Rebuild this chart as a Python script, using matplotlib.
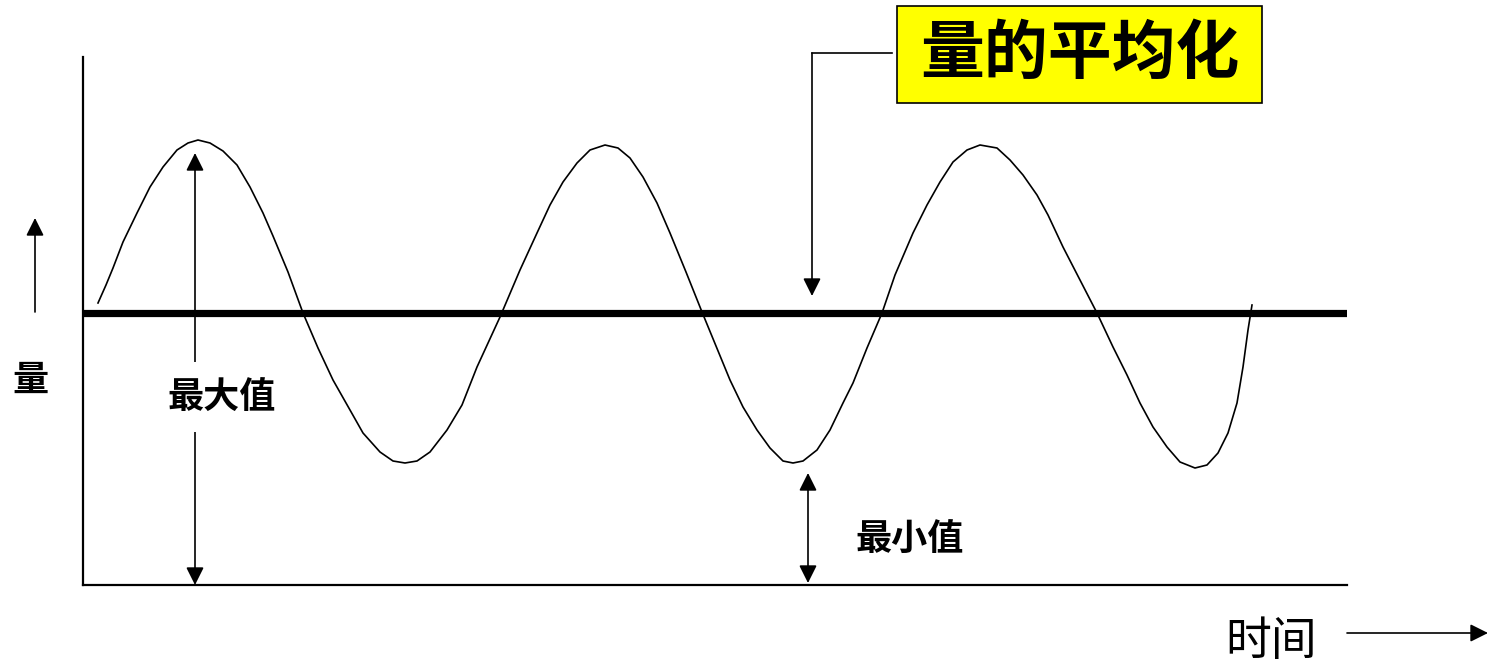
import matplotlib
matplotlib.use("Agg")
import matplotlib.pyplot as plt
from matplotlib.patches import Rectangle

plt.rcParams['font.family'] = ['Noto Sans CJK SC', 'DejaVu Sans']

# ---- data (time units, quantity units; origin at axes corner) ----
time = [15, 23, 30, 40, 54, 67, 80, 94, 105, 115, 127, 140, 154, 167, 180, 190,
        205, 220, 235, 250, 267, 280, 297, 310, 322, 334, 347, 364, 379, 394,
        417, 437, 454, 467, 480, 494, 507, 522, 535, 547, 560, 574, 587, 603,
        619, 633, 647, 660, 674, 687, 700, 710, 720, 734, 747, 760, 770, 784,
        799, 812, 824, 830, 844, 857, 870, 884, 897, 914, 927, 940, 954, 965,
        980, 997, 1014, 1030, 1044, 1057, 1070, 1084, 1097, 1112, 1124, 1135,
        1145, 1154, 1160, 1165, 1169]
quantity = [282, 300, 317, 343, 372, 398, 418, 435, 442, 445, 442, 434, 420, 398, 372, 349,
            313, 272, 237, 205, 175, 152, 133, 124, 122, 124, 133, 155, 180, 218,
            268, 315, 352, 380, 403, 422, 435, 440, 437, 427, 408, 382, 352, 313,
            273, 239, 205, 178, 155, 137, 124, 122, 124, 135, 155, 182, 202, 237,
            272, 310, 338, 352, 380, 403, 423, 435, 440, 437, 425, 410, 390, 370,
            338, 305, 272, 238, 210, 182, 158, 138, 123, 117, 120, 132,
            152, 182, 218, 255, 280]
mean_value = 272
max_marker_time = 112
max_value = 432
min_marker_time = 725
min_value = 112
title_text = "量的平均化"
ylabel_text = "量"
xlabel_text = "时间"
max_label = "最大值"
min_label = "最小值"

fig = plt.figure(figsize=(14.9, 6.66), dpi=100)
ax = fig.add_axes([83 / 1490, 81 / 666, 1264 / 1490, 528 / 666])
ax.set_xlim(0, 1264)
ax.set_ylim(0, 528)
for s in ['top', 'right']:
    ax.spines[s].set_visible(False)
for s in ['left', 'bottom']:
    ax.spines[s].set_linewidth(1.6)
    ax.spines[s].set_color('black')
ax.set_xticks([])
ax.set_yticks([])

# sine-like curve
ax.plot(time, quantity, color='black', lw=1.2, solid_joinstyle='round', zorder=3)
# mean line
ax.axhline(mean_value, color='black', lw=5.2, zorder=2)

head = '-|>,head_length=0.4,head_width=0.2'
dhead = '<|-|>,head_length=0.4,head_width=0.2'
ap = dict(color='black', lw=1.2, shrinkA=0, shrinkB=0, mutation_scale=27)

# max arrow
ax.annotate('', xy=(max_marker_time, max_value), xytext=(max_marker_time, 0),
            arrowprops=dict(arrowstyle=dhead, **ap), annotation_clip=False, zorder=4)
ax.text(max_marker_time + 27, 188, max_label, fontsize=26, fontweight='bold',
        ha='center', va='center', zorder=5,
        bbox=dict(boxstyle='square,pad=0.45', fc='white', ec='none'))

# min arrow
ax.annotate('', xy=(min_marker_time, min_value), xytext=(min_marker_time, 2),
            arrowprops=dict(arrowstyle=dhead, **ap), annotation_clip=False, zorder=4)
ax.text(827, 45, min_label, fontsize=26, fontweight='bold', ha='center', va='center')

# title box with connector arrow
ax.add_patch(Rectangle((814, 482), 365, 97, facecolor='#ffff00', edgecolor='black',
                       lw=1.2, clip_on=False, zorder=5))
ax.text(996.5, 530.5, title_text, fontsize=46, fontweight='bold', ha='center',
        va='center', zorder=6, clip_on=False)
ax.plot([729, 809], [532, 532], color='black', lw=1.2, clip_on=False)
ax.annotate('', xy=(729, 289), xytext=(729, 532),
            arrowprops=dict(arrowstyle=head, **ap), annotation_clip=False)

# y-axis hint
ax.annotate('', xy=(-48, 367), xytext=(-48, 273),
            arrowprops=dict(arrowstyle=head, **ap), annotation_clip=False)
ax.text(-53, 205, ylabel_text, fontsize=26, fontweight='bold', ha='center', va='center',
        clip_on=False)

# x-axis hint
ax.annotate('', xy=(1405, -48), xytext=(1264, -48),
            arrowprops=dict(arrowstyle=head, **ap), annotation_clip=False)
ax.text(1188, -57, xlabel_text, fontsize=33, ha='center', va='center', clip_on=False)

fig.savefig('out.png', dpi=100, facecolor='white')
